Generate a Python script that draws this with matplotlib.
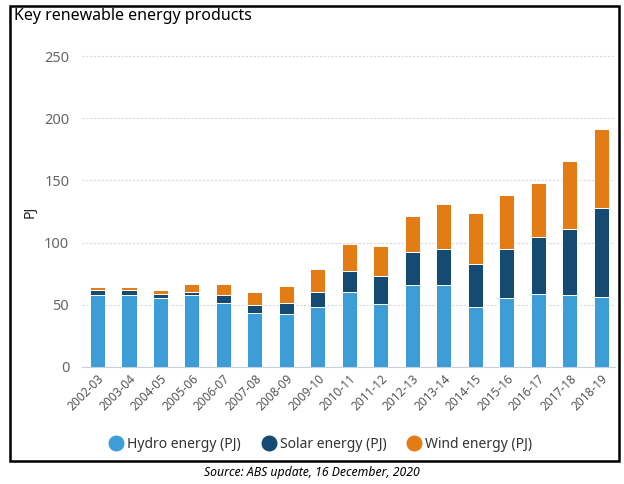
import numpy as np
import matplotlib.pyplot as plt
from matplotlib.patches import Rectangle
from matplotlib.lines import Line2D

plt.rcParams['font.family'] = ['Noto Sans', 'DejaVu Sans']

years = ["2002-03", "2003-04", "2004-05", "2005-06", "2006-07", "2007-08", "2008-09",
         "2009-10", "2010-11", "2011-12", "2012-13", "2013-14", "2014-15", "2015-16",
         "2016-17", "2017-18", "2018-19"]
hydro = [58, 58, 55.4, 57.5, 51.6, 43, 42.5, 48.4, 60.5, 50.8, 65.7, 65.7, 48.1, 55.1, 58.7, 57.9, 56.5]
solar = [3.6, 4, 3, 2.8, 5.9, 6.7, 8.9, 12.1, 16.8, 21.9, 26.7, 28.9, 34.6, 39.5, 45.4, 52.9, 71.3]
wind = [2.7, 2.5, 3.2, 6.5, 9.3, 10.6, 13.4, 18.4, 21.9, 24.3, 28.9, 36.7, 40.8, 43.7, 44.2, 54.8, 63.8]

c_hydro = '#3d9dd7'
c_solar = '#154b73'
c_wind = '#e37c14'

fig = plt.figure(figsize=(6.24, 4.84), dpi=100)
ax = fig.add_axes([0.131, 0.2424, 0.855, 0.654])

x = np.arange(len(years))
hydro = np.array(hydro)
solar = np.array(solar)
wind = np.array(wind)
w = 0.48
ax.bar(x, hydro, w, color=c_hydro, edgecolor='white', linewidth=0.7, zorder=3)
ax.bar(x, solar, w, bottom=hydro, color=c_solar, edgecolor='white', linewidth=0.7, zorder=3)
ax.bar(x, wind, w, bottom=hydro + solar, color=c_wind, edgecolor='white', linewidth=0.7, zorder=3)

ax.set_xlim(-0.5, 16.45)
ax.set_ylim(0, 255)
ax.set_yticks([0, 50, 100, 150, 200, 250])
ax.grid(axis='y', color='#d8d8e2', linestyle=(0, (2, 1.5)), linewidth=0.8, zorder=0)
for s in ['top', 'right', 'left']:
    ax.spines[s].set_visible(False)
ax.spines['bottom'].set_color('#c8d0e0')
ax.tick_params(axis='y', length=0, labelsize=10.5, labelcolor='#666666', pad=9)
ax.tick_params(axis='x', length=0, labelsize=8.5, labelcolor='#555555', pad=4)
ax.set_xticks(x)
ax.set_xticklabels(years, rotation=45, ha='right', rotation_mode='anchor')
ax.set_ylabel('PJ', fontsize=10, fontweight='bold', color='#222222')
ax.yaxis.set_label_coords(-0.082, 0.49)

fig.text(0.022, 0.967, 'Key renewable energy products', fontsize=11.5, color='black', va='center')

handles = [Line2D([], [], marker='o', linestyle='', markersize=10.5, color=c) for c in (c_hydro, c_solar, c_wind)]
fig.legend(handles, ['Hydro energy (PJ)', 'Solar energy (PJ)', 'Wind energy (PJ)'],
           loc='center', bbox_to_anchor=(0.514, 0.081), ncol=3, frameon=False,
           fontsize=10, handlelength=1, handletextpad=0.3, columnspacing=1.5, labelcolor='#333333')

fig.add_artist(Rectangle((0.016, 0.048), 0.976, 0.94, transform=fig.transFigure,
                         fill=False, edgecolor='black', linewidth=1.8))
fig.text(0.5, 0.023, 'Source: ABS update, 16 December, 2020', fontsize=8.8, fontweight='bold',
         fontstyle='italic', ha='center', va='center')

fig.savefig('out.png', dpi=100)
